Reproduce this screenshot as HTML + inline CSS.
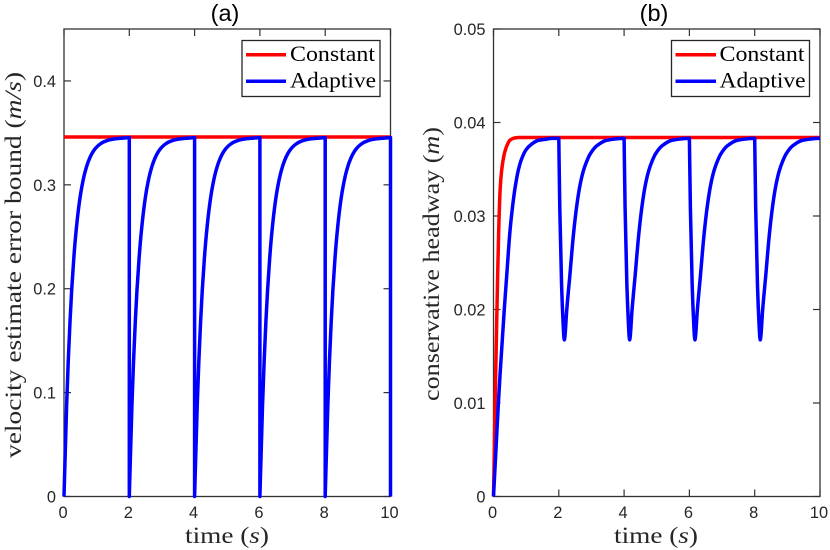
<!DOCTYPE html>
<html lang="en">
<head>
<meta charset="utf-8">
<title>Velocity estimate error bound and conservative headway</title>
<style>
html,body{margin:0;padding:0;background:#fff;}
svg{display:block;}
.tick-label{font-family:"Liberation Sans",sans-serif;font-size:16.4px;fill:#262626;}
.title{font-family:"Liberation Sans",sans-serif;font-size:23.5px;fill:#000;text-anchor:middle;}
.axis-title{font-family:"Liberation Serif",serif;font-size:23.5px;fill:#262626;}
.legend-text{font-family:"Liberation Serif",serif;font-size:22.5px;fill:#000;}
</style>
</head>
<body>
<svg id="chart" xmlns="http://www.w3.org/2000/svg" width="830" height="550" viewBox="0 0 830 550">
  <rect x="0" y="0" width="830" height="550" fill="#fff"/>
  <text class="title" x="225" y="21">(a)</text>
  <text class="title" x="654" y="21">(b)</text>
  <g id="panel-a"></g>
  <g id="panel-b"></g>
  <text class="axis-title" x="185" y="543" textLength="84" lengthAdjust="spacingAndGlyphs">time (<tspan font-style="italic">s</tspan>)</text>
  <text class="axis-title" x="614" y="543" textLength="84" lengthAdjust="spacingAndGlyphs">time (<tspan font-style="italic">s</tspan>)</text>
  <text class="axis-title" transform="translate(21,458) rotate(-90)" x="0" y="0" textLength="386" lengthAdjust="spacingAndGlyphs">velocity estimate error bound (<tspan font-style="italic">m/s</tspan>)</text>
  <text class="axis-title" transform="translate(439,401) rotate(-90)" x="0" y="0" textLength="274" lengthAdjust="spacingAndGlyphs">conservative headway (<tspan font-style="italic">m</tspan>)</text>
  <g>
    <rect x="242" y="40.5" width="138" height="56" fill="#fff" stroke="#262626" stroke-width="1.3"/>
    <line x1="246" x2="286" y1="54.7" y2="54.7" stroke="#f00" stroke-width="3.5"/>
    <text class="legend-text" x="290" y="61" textLength="85" lengthAdjust="spacingAndGlyphs">Constant</text>
    <line x1="246" x2="286" y1="81.3" y2="81.3" stroke="#00f" stroke-width="3.5"/>
    <text class="legend-text" x="290" y="87.5" textLength="86" lengthAdjust="spacingAndGlyphs">Adaptive</text>
  </g>
  <g>
    <rect x="671.5" y="40.5" width="138" height="56" fill="#fff" stroke="#262626" stroke-width="1.3"/>
    <line x1="675.5" x2="716" y1="54.7" y2="54.7" stroke="#f00" stroke-width="3.5"/>
    <text class="legend-text" x="719.5" y="61" textLength="85" lengthAdjust="spacingAndGlyphs">Constant</text>
    <line x1="675.5" x2="716" y1="81.3" y2="81.3" stroke="#00f" stroke-width="3.5"/>
    <text class="legend-text" x="719.5" y="87.5" textLength="86" lengthAdjust="spacingAndGlyphs">Adaptive</text>
  </g>
</svg>
<script>
var xTicks = [0, 2, 4, 6, 8, 10];
var xTickLabels = ['0', '2', '4', '6', '8', '10'];
var yTicksA = [0, 0.1, 0.2, 0.3, 0.4];
var yTickLabelsA = ['0', '0.1', '0.2', '0.3', '0.4'];
var yTicksB = [0, 0.01, 0.02, 0.03, 0.04, 0.05];
var yTickLabelsB = ['0', '0.01', '0.02', '0.03', '0.04', '0.05'];

var constantTimeA = [0, 10];
var constantValuesA = [0.346, 0.346];
var adaptiveTimeA = [
  0, 0.08, 0.13, 0.184, 0.235, 0.3, 0.357, 0.45, 0.54, 0.64, 0.745, 0.85, 0.95, 1.07, 1.2, 1.4, 1.61, 1.8, 2,
  2, 2.08, 2.13, 2.184, 2.235, 2.3, 2.357, 2.45, 2.54, 2.64, 2.745, 2.85, 2.95, 3.07, 3.2, 3.4, 3.61, 3.8, 4,
  4, 4.08, 4.13, 4.184, 4.235, 4.3, 4.357, 4.45, 4.54, 4.64, 4.745, 4.85, 4.95, 5.07, 5.2, 5.4, 5.61, 5.8, 6,
  6, 6.08, 6.13, 6.184, 6.235, 6.3, 6.357, 6.45, 6.54, 6.64, 6.745, 6.85, 6.95, 7.07, 7.2, 7.4, 7.61, 7.8, 8,
  8, 8.08, 8.13, 8.184, 8.235, 8.3, 8.357, 8.45, 8.54, 8.64, 8.745, 8.85, 8.95, 9.07, 9.2, 9.4, 9.61, 9.8, 10,
  10
];
var adaptiveValuesA = [
  0, 0.0872, 0.1301, 0.1685, 0.1985, 0.2294, 0.2512, 0.2782, 0.297, 0.3118, 0.3225, 0.3298, 0.3346, 0.3384, 0.3411, 0.3434, 0.3445, 0.345, 0.3455,
  0, 0.0872, 0.1301, 0.1685, 0.1985, 0.2294, 0.2512, 0.2782, 0.297, 0.3118, 0.3225, 0.3298, 0.3346, 0.3384, 0.3411, 0.3434, 0.3445, 0.345, 0.3455,
  0, 0.0872, 0.1301, 0.1685, 0.1985, 0.2294, 0.2512, 0.2782, 0.297, 0.3118, 0.3225, 0.3298, 0.3346, 0.3384, 0.3411, 0.3434, 0.3445, 0.345, 0.3455,
  0, 0.0872, 0.1301, 0.1685, 0.1985, 0.2294, 0.2512, 0.2782, 0.297, 0.3118, 0.3225, 0.3298, 0.3346, 0.3384, 0.3411, 0.3434, 0.3445, 0.345, 0.3455,
  0, 0.0872, 0.1301, 0.1685, 0.1985, 0.2294, 0.2512, 0.2782, 0.297, 0.3118, 0.3225, 0.3298, 0.3346, 0.3384, 0.3411, 0.3434, 0.3445, 0.345, 0.3455,
  0
];

var constantTimeB = [0, 0.05, 0.1, 0.128, 0.16, 0.2, 0.25, 0.3, 0.35, 0.42, 0.5, 0.6, 0.76, 10];
var constantValuesB = [0, 0.01, 0.019, 0.0237, 0.0285, 0.0326, 0.0349, 0.0361, 0.0369, 0.0376, 0.0381, 0.0383, 0.0384, 0.0384];
var adaptiveTimeB = [
  0, 0.05, 0.1, 0.15, 0.2, 0.33, 0.404, 0.505, 0.58, 0.66, 0.76, 0.86, 1, 1.17, 1.38, 1.58, 1.8,
  2, 2.03, 2.085, 2.135, 2.155, 2.17, 2.19, 2.24, 2.34, 2.445, 2.55, 2.65, 2.75, 2.85, 2.955, 3.16, 3.47, 3.97,
  4, 4.03, 4.085, 4.135, 4.155, 4.17, 4.19, 4.24, 4.34, 4.445, 4.55, 4.65, 4.75, 4.85, 4.955, 5.16, 5.47, 5.97,
  6, 6.03, 6.085, 6.135, 6.155, 6.17, 6.19, 6.24, 6.34, 6.445, 6.55, 6.65, 6.75, 6.85, 6.955, 7.16, 7.47, 7.97,
  8, 8.03, 8.085, 8.135, 8.155, 8.17, 8.19, 8.24, 8.34, 8.445, 8.55, 8.65, 8.75, 8.85, 8.955, 9.16, 9.47, 9.97,
  10
];
var adaptiveValuesB = [
  0, 0.0033, 0.0067, 0.01, 0.013, 0.02, 0.0236, 0.0284, 0.0309, 0.033, 0.0349, 0.0361, 0.0371, 0.0377, 0.0381, 0.0382, 0.0383,
  0.0383, 0.0309, 0.0226, 0.0183, 0.0171, 0.01675, 0.0172, 0.0198, 0.0237, 0.0279, 0.0311, 0.0333, 0.0348, 0.0358, 0.0366, 0.0375, 0.0381, 0.0383,
  0.0383, 0.0309, 0.0226, 0.0183, 0.0171, 0.01675, 0.0172, 0.0198, 0.0237, 0.0279, 0.0311, 0.0333, 0.0348, 0.0358, 0.0366, 0.0375, 0.0381, 0.0383,
  0.0383, 0.0309, 0.0226, 0.0183, 0.0171, 0.01675, 0.0172, 0.0198, 0.0237, 0.0279, 0.0311, 0.0333, 0.0348, 0.0358, 0.0366, 0.0375, 0.0381, 0.0383,
  0.0383, 0.0309, 0.0226, 0.0183, 0.0171, 0.01675, 0.0172, 0.0198, 0.0237, 0.0279, 0.0311, 0.0333, 0.0348, 0.0358, 0.0366, 0.0375, 0.0381, 0.0383,
  0.0383
];

var SVG_NS = 'http://www.w3.org/2000/svg';

function svgEl(tag, parent) {
  var el = document.createElementNS(SVG_NS, tag);
  parent.appendChild(el);
  return el;
}

// Smooth path through the data: monotone cubic runs, broken at vertical drops and sharp peaks.
function curvePath(px, py) {
  var d = 'M' + px[0].toFixed(2) + ' ' + py[0].toFixed(2);
  var runStart = 0;
  function flushRun(a, b) {
    if (b <= a) { return; }
    var sec = [], tan = [], i;
    for (i = a; i < b; i++) { sec.push((py[i + 1] - py[i]) / (px[i + 1] - px[i])); }
    tan.push(sec[0]);
    for (i = 1; i < sec.length; i++) {
      if (sec[i - 1] * sec[i] <= 0) { tan.push(0); }
      else { tan.push(2 * sec[i - 1] * sec[i] / (sec[i - 1] + sec[i])); }
    }
    tan.push(sec[sec.length - 1]);
    for (i = a; i < b; i++) {
      var h = (px[i + 1] - px[i]) / 3;
      var m0 = tan[i - a], m1 = tan[i - a + 1];
      d += 'C' + (px[i] + h).toFixed(2) + ' ' + (py[i] + m0 * h).toFixed(2) + ' ' +
        (px[i + 1] - h).toFixed(2) + ' ' + (py[i + 1] - m1 * h).toFixed(2) + ' ' +
        px[i + 1].toFixed(2) + ' ' + py[i + 1].toFixed(2);
    }
  }
  for (var i = 0; i < px.length - 1; i++) {
    if (px[i + 1] - px[i] < 0.001) {
      flushRun(runStart, i);
      d += 'L' + px[i + 1].toFixed(2) + ' ' + py[i + 1].toFixed(2);
      runStart = i + 1;
    } else if (i > runStart && py[i] <= py[i - 1] && py[i + 1] > py[i]) {
      flushRun(runStart, i);
      runStart = i;
    }
  }
  flushRun(runStart, px.length - 1);
  return d;
}

function drawPanel(group, left, right, top, bottom, yMax, yTicks, yLabels, series) {
  function xScale(v) { return left + (v / 10) * (right - left); }
  function yScale(v) { return bottom - (v / yMax) * (bottom - top); }
  var tickLen = 7;
  var axisColor = '#333';

  var box = svgEl('rect', group);
  
  
  box.setAttribute('x', left);
  box.setAttribute('y', top);
  box.setAttribute('width', right - left);
  box.setAttribute('height', bottom - top);
  box.setAttribute('fill', 'none');
  box.setAttribute('stroke', axisColor);
  box.setAttribute('stroke-width', '1.3');

  xTicks.forEach(function (t, i) {
    var x = xScale(t);
    [[bottom, bottom - tickLen], [top, top + tickLen]].forEach(function (pair) {
      var tick = svgEl('line', group);
      
      
      tick.setAttribute('x1', x);
      tick.setAttribute('x2', x);
      tick.setAttribute('y1', pair[0]);
      tick.setAttribute('y2', pair[1]);
      tick.setAttribute('stroke', axisColor);
      tick.setAttribute('stroke-width', '1.2');
    });
    var label = svgEl('text', group);
    
    
    label.setAttribute('class', 'tick-label');
    label.setAttribute('x', x - 1);
    label.setAttribute('y', 518);
    label.setAttribute('text-anchor', 'middle');
    label.textContent = xTickLabels[i];
  });

  yTicks.forEach(function (v, i) {
    var y = yScale(v);
    [[left, left + tickLen], [right, right - tickLen]].forEach(function (pair) {
      var tick = svgEl('line', group);
      
      
      tick.setAttribute('x1', pair[0]);
      tick.setAttribute('x2', pair[1]);
      tick.setAttribute('y1', y);
      tick.setAttribute('y2', y);
      tick.setAttribute('stroke', axisColor);
      tick.setAttribute('stroke-width', '1.2');
    });
    var label = svgEl('text', group);
    
    
    label.setAttribute('class', 'tick-label');
    label.setAttribute('x', left - 8);
    label.setAttribute('y', y + 6);
    label.setAttribute('text-anchor', 'end');
    label.textContent = yLabels[i];
  });

  series.forEach(function (s) {
    var line = svgEl('path', group);
    
    
    line.setAttribute('d', curvePath(s.time.map(xScale), s.values.map(yScale)));
    line.setAttribute('fill', 'none');
    line.setAttribute('stroke', s.color);
    line.setAttribute('stroke-width', '3.5');
    line.setAttribute('stroke-linejoin', 'round');
    line.setAttribute('stroke-linecap', 'butt');
  });
}

drawPanel(document.getElementById('panel-a'), 64, 390.5, 29, 496.5, 0.45, yTicksA, yTickLabelsA, [
  { name: 'constant-line', color: '#f00', time: constantTimeA, values: constantValuesA },
  { name: 'adaptive-line', color: '#00f', time: adaptiveTimeA, values: adaptiveValuesA }
]);
drawPanel(document.getElementById('panel-b'), 493.5, 820, 29, 496.5, 0.05, yTicksB, yTickLabelsB, [
  { name: 'constant-line', color: '#f00', time: constantTimeB, values: constantValuesB },
  { name: 'adaptive-line', color: '#00f', time: adaptiveTimeB, values: adaptiveValuesB }
]);
</script>
</body>
</html>
